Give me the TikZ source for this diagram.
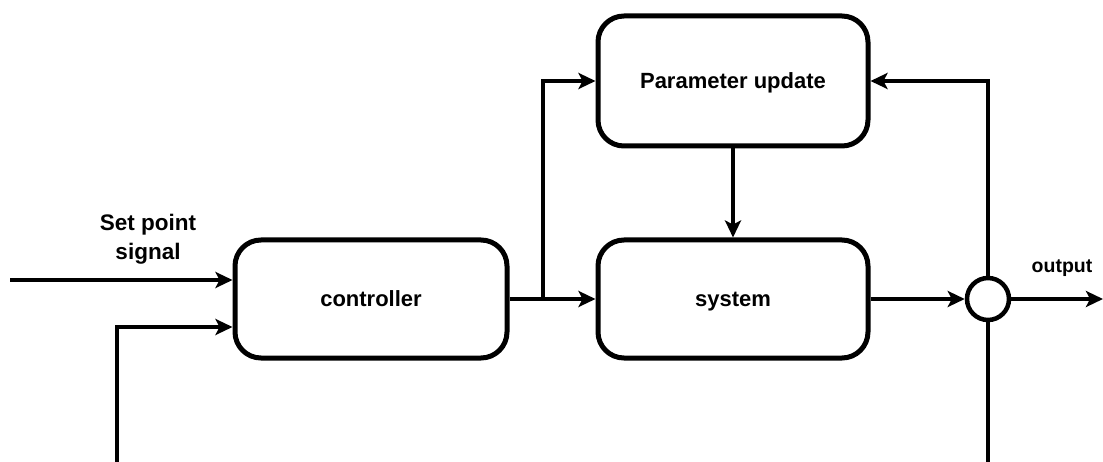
\documentclass[tikz,border=0pt]{standalone}
\usepackage{fontspec}
\setmainfont{Liberation Sans}
\usetikzlibrary{arrows.meta}
\begin{document}
\begin{tikzpicture}[x=1pt,y=-1pt,
  blk/.style={draw, line width=5pt, rounded corners=26pt, fill=white,
    text depth=0pt, font=\bfseries\fontsize{22}{26}\selectfont},
  sumnode/.style={draw, circle, line width=4.5pt, minimum size=42pt, inner sep=0pt},
  arr/.style={line width=4.5pt, -{Stealth[length=17pt,width=16pt,inset=4pt]}},
  wire/.style={line width=4.5pt},
  lbl/.style={font=\bfseries\fontsize{22.5}{29}\selectfont, align=center}]
  \useasboundingbox (0,0) rectangle (1103,462);

  % blocks
  \node[blk, minimum width=272pt, minimum height=118pt] (ctrl) at (371,299) {controller};
  \node[blk, minimum width=270pt, minimum height=118pt] (sys) at (733,299) {system};
  \node[blk, minimum width=270pt, minimum height=130pt] (par) at (733,81) {Parameter update};
  \node[sumnode] (sum) at (988,299) {};

  % free ends
  \coordinate (spin) at (10,280);
  \coordinate (din) at (117,462);
  \coordinate (br) at (543,299);
  \coordinate (yout) at (1103,299);
  \coordinate (dn) at (988,462);

  % inputs to controller
  \draw[arr] (spin) -- (spin -| ctrl.west);
  \draw[arr] (din) |- ([yshift=-28pt]ctrl.west);
  \node[lbl] (splbl) at (148,239) {Set point\\signal};

  % forward path
  \draw[arr] (ctrl.east) -- (sys.west);
  \draw[arr] (br) |- (par.west);
  \draw[arr] (par.south) -- (sys.north);
  \draw[arr] (sys.east) -- (sum.west);
  \draw[arr] (sum.east) -- (yout);
  \node[font=\bfseries\fontsize{19.5}{22}\selectfont] (outlbl) at (1062,268) {output};

  % feedback and lower branch
  \draw[arr] (sum.north) |- (par.east);
  \draw[wire] (sum.south) -- (dn);
\end{tikzpicture}
\end{document}
